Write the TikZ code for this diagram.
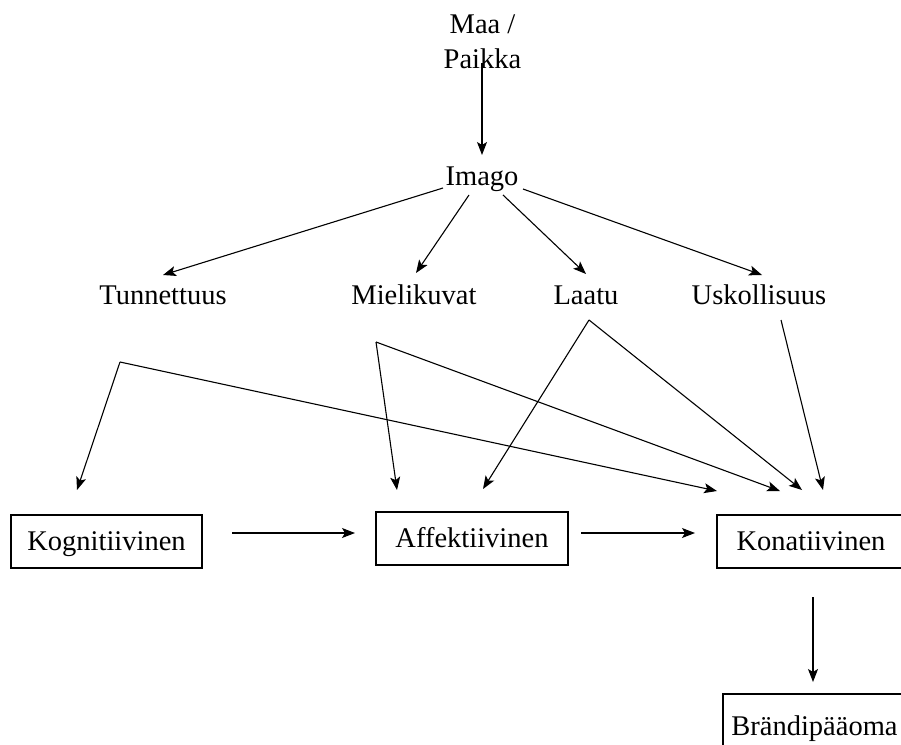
\documentclass[tikz,border=0pt]{standalone}
\usepackage{fontspec}
\setmainfont{Liberation Serif}
\usetikzlibrary{arrows.meta}
\begin{document}
\begin{tikzpicture}[x=1pt,y=-1pt,
  lbl/.style={inner sep=0pt,anchor=base,font=\fontsize{28.5}{35}\selectfont},
  boxnode/.style={draw,line width=1.3pt,inner sep=0pt,font=\fontsize{28.5}{35}\selectfont,
    text height=21.4pt,text depth=4.4pt,minimum height=53pt},
  arr/.style={line width=1.1pt,-{Stealth[length=13pt,width=10pt,inset=3pt]}},
  ln/.style={line width=1.1pt}]
\useasboundingbox (0,0) rectangle (901,744);
\fill[white] (0,0) rectangle (901,744);
% text nodes
\node[lbl,align=center] (maa) at (482.5,68) {Maa /\\Paikka};
\node[lbl] (imago) at (482,185) {Imago};
\node[lbl] (tun) at (163,304) {Tunnettuus};
\node[lbl] (mie) at (414,304) {Mielikuvat};
\node[lbl] (laa) at (586,304) {Laatu};
\node[lbl] (usk) at (759,304) {Uskollisuus};
% boxes
\node[boxnode,minimum width=191pt] (kog) at (106.5,541.5) {Kognitiivinen};
\node[boxnode,minimum width=192pt] (aff) at (472,538.5) {Affektiivinen};
\node[boxnode,minimum width=188pt] (kon) at (811,541.5) {Konatiivinen};
\node[boxnode,minimum width=183pt,minimum height=65pt] (bra) at (814.5,726.5) {Brändipääoma};
% coordinates
\coordinate (maaS) at (482,63);
\coordinate (imaT) at (482,155);
\coordinate (imaA) at (443,188);
\coordinate (imaB) at (469,195);
\coordinate (imaC) at (503,195);
\coordinate (imaD) at (523,189);
\coordinate (tunT) at (163,275);
\coordinate (mieT) at (416,273);
\coordinate (laaT) at (586,274);
\coordinate (uskT) at (762,275);
\coordinate (ctun) at (120,362);
\coordinate (cmie) at (376,342);
\coordinate (claa) at (589,320);
\coordinate (cusk) at (781,320);
\coordinate (kogT) at (77,490);
\coordinate (affT1) at (397,490);
\coordinate (affT2) at (483,489);
\coordinate (konT1) at (717,491);
\coordinate (konT2) at (780,491);
\coordinate (konT3) at (802,490);
\coordinate (konT4) at (823,490);
\coordinate (kogR) at (232,533);
\coordinate (affL) at (355,533);
\coordinate (affR) at (581,533);
\coordinate (konL) at (695,533);
\coordinate (konB) at (813,597);
\coordinate (braT) at (813,682);
% connectors
\draw[arr] (maaS) -- (imaT);
\draw[arr] (imaA) -- (tunT);
\draw[arr] (imaB) -- (mieT);
\draw[arr] (imaC) -- (laaT);
\draw[arr] (imaD) -- (uskT);
\draw[arr] (ctun) -- (kogT);
\draw[arr] (ctun) -- (konT1);
\draw[arr] (cmie) -- (affT1);
\draw[arr] (cmie) -- (konT2);
\draw[arr] (claa) -- (affT2);
\draw[arr] (claa) -- (konT3);
\draw[arr] (cusk) -- (konT4);
\draw[arr] (kogR) -- (affL);
\draw[arr] (affR) -- (konL);
\draw[arr] (konB) -- (braT);
\end{tikzpicture}
\end{document}
